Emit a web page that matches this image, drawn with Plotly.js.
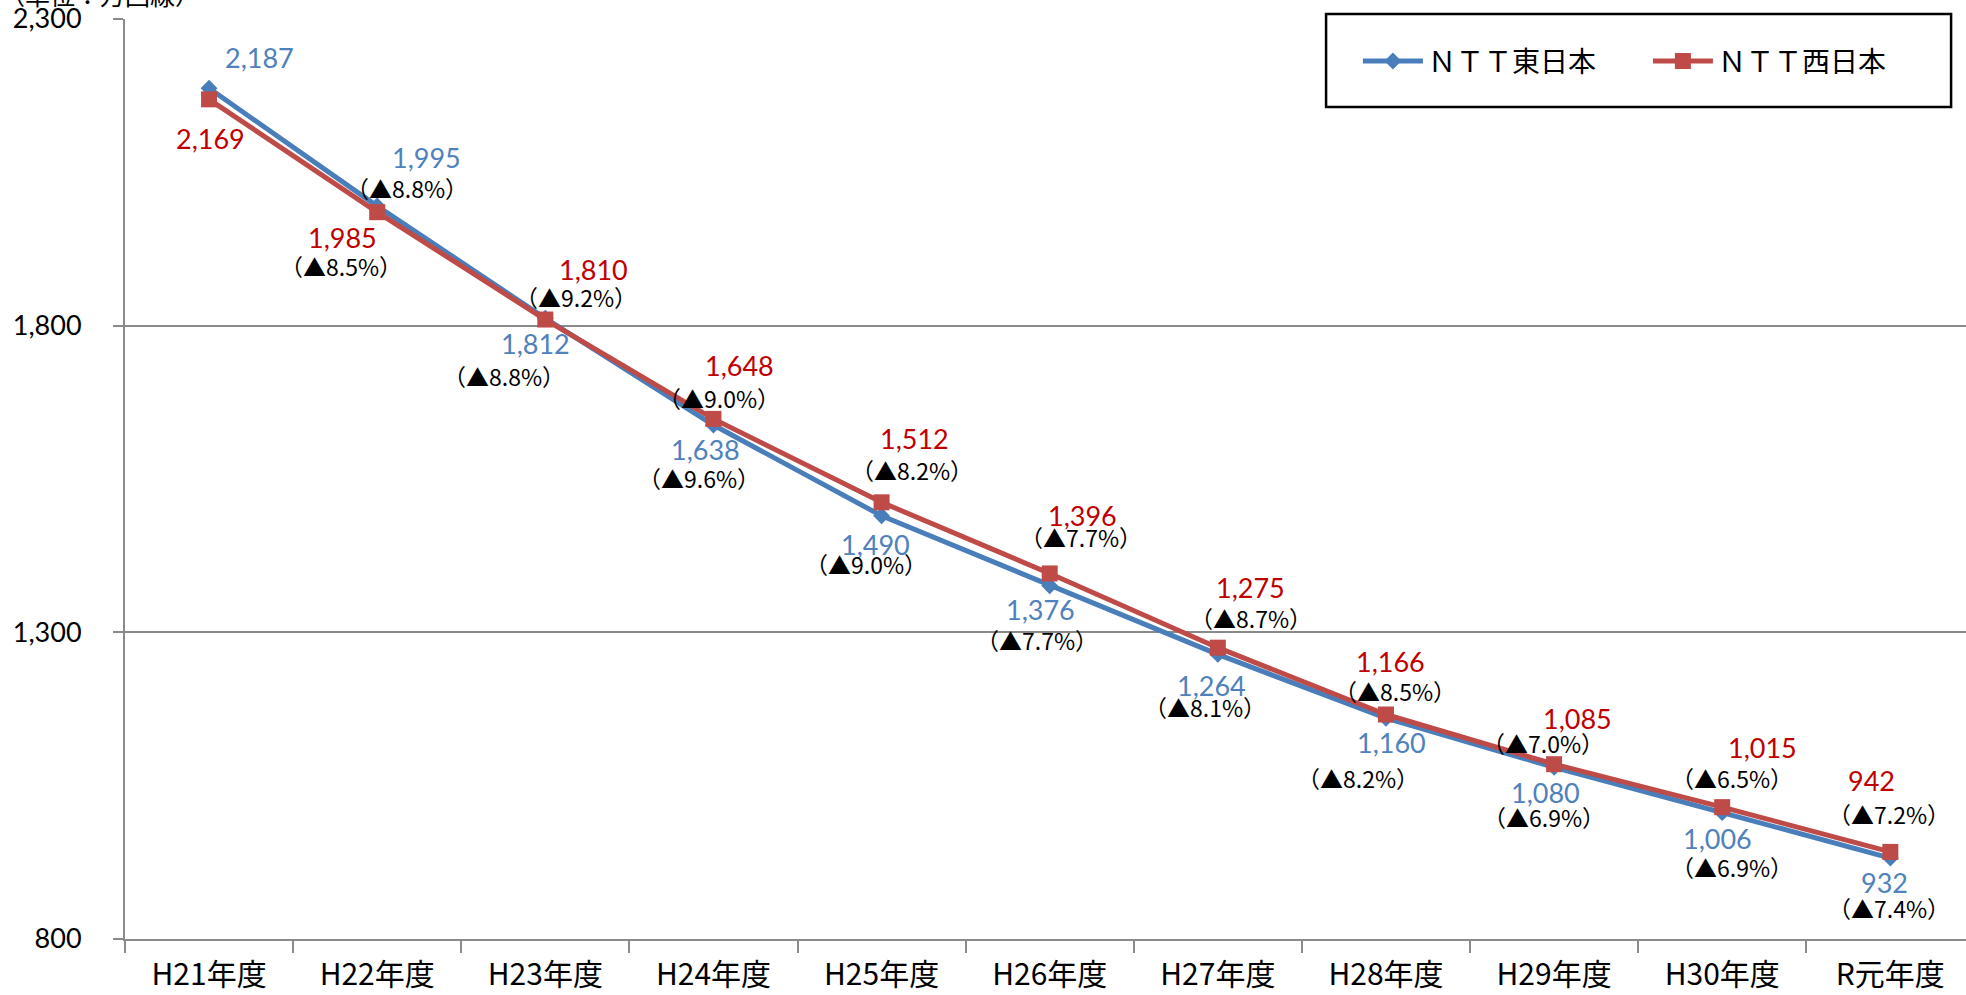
<!DOCTYPE html>
<html><head><meta charset="utf-8">
<script src="https://cdn.plot.ly/plotly-3.0.1.min.js"></script>
<style>html,body{margin:0;padding:0;background:#fff}#chart{width:1966px;height:995px}</style>
</head><body><div id="chart"></div>
<script>
// ---- data ----
const categories = ['H21年度','H22年度','H23年度','H24年度','H25年度','H26年度','H27年度','H28年度','H29年度','H30年度','R元年度'];
const eastValues = [2187,1995,1812,1638,1490,1376,1264,1160,1080,1006,932];
const westValues = [2169,1985,1810,1648,1512,1396,1275,1166,1085,1015,942];
const eastChangeLabels = ['','（▲8.8%）','（▲8.8%）','（▲9.6%）','（▲9.0%）','（▲7.7%）','（▲8.1%）','（▲8.2%）','（▲6.9%）','（▲6.9%）','（▲7.4%）'];
const westChangeLabels = ['','（▲8.5%）','（▲9.2%）','（▲9.0%）','（▲8.2%）','（▲7.7%）','（▲8.7%）','（▲8.5%）','（▲7.0%）','（▲6.5%）','（▲7.2%）'];
const yTickValues = [800,1300,1800,2300];
const seriesNames = ['ＮＴＴ東日本','ＮＴＴ西日本'];
const unitLabel = '（単位：万回線）';

// ---- label placement (pixel offsets from each point: [dx, dy downward]) ----
const eastNumOffset = [[50,-31],[49,-49],[-10,25],[-8,24],[-6,29],[-9,24],[-6,31],[6,24],[-9,25],[-5,26],[-6,24]];
const eastPctOffset = [[0,0],[30,-18],[-41,58],[-14,53],[-16,48],[-13,54],[-13,53],[-28,60],[-10,50],[10,54],[-1,50]];
const westNumOffset = [[1,39],[-35,25],[48,-50],[26,-53],[33,-64],[33,-58],[33,-60],[5,-53],[23,-46],[40,-60],[-19,-71]];
const westPctOffset = [[0,0],[-36,54],[31,-23],[6,-21],[30,-32],[31,-36],[33,-30],[9,-24],[-11,-21],[10,-29],[-1,-38]];

const BLUE = '#4A7EBB', RED = '#BE4B48';
const BLUE_TXT = '#4F81BD', RED_TXT = '#C00000';
const numFont = 'Lato, "Open Sans", sans-serif';
const narrowFont = '"Liberation Sans Narrow", "Noto Sans CJK JP", sans-serif';
const cjkFont = '"Noto Sans CJK JP", sans-serif';
const fmt = v => v.toLocaleString('en-US');

const traces = [
  {x: categories, y: eastValues, name: seriesNames[0], type: 'scatter', mode: 'lines+markers',
   line: {color: BLUE, width: 5}, marker: {symbol: 'diamond', size: 13, color: BLUE}},
  {x: categories, y: westValues, name: seriesNames[1], type: 'scatter', mode: 'lines+markers',
   line: {color: RED, width: 5}, marker: {symbol: 'square', size: 16, color: RED}}
];

const annotations = [];
function addLabels(values, pcts, numOff, pctOff, color) {
  values.forEach((v, i) => {
    annotations.push({x: categories[i], y: v, xref: 'x', yref: 'y', text: fmt(v), showarrow: false,
      xshift: numOff[i][0], yshift: -numOff[i][1], font: {family: numFont, size: 27, color: color}});
    if (pcts[i]) annotations.push({x: categories[i], y: v, xref: 'x', yref: 'y', text: pcts[i], showarrow: false,
      xshift: pctOff[i][0], yshift: -pctOff[i][1], font: {family: narrowFont, size: 23, color: '#000'}});
  });
}
addLabels(eastValues, eastChangeLabels, eastNumOffset, eastPctOffset, BLUE_TXT);
addLabels(westValues, westChangeLabels, westNumOffset, westPctOffset, RED_TXT);
annotations.push({xref: 'paper', yref: 'paper', x: -0.069, y: 1.0054, xanchor: 'left', yanchor: 'bottom',
  text: unitLabel, showarrow: false, font: {family: cjkFont, size: 25, color: '#000'}});

const layout = {
  width: 1966, height: 995,
  margin: {l: 125, r: 0, t: 19, b: 56, pad: 0, autoexpand: false},
  paper_bgcolor: '#fff', plot_bgcolor: '#fff',
  showlegend: true,
  legend: {orientation: 'h', x: 0.6697, xanchor: 'left', y: 0.954, yanchor: 'middle',
    bgcolor: 'rgba(0,0,0,0)', borderwidth: 0, itemwidth: 60, entrywidth: 215, entrywidthmode: 'pixels',
    font: {family: cjkFont, size: 28, color: '#000'}},
  xaxis: {type: 'category', range: [-0.5, 10.45], showgrid: false, zeroline: false,
    showline: true, linecolor: '#8a8a8a', linewidth: 2,
    ticks: 'outside', tickson: 'boundaries', ticklen: 12, tickcolor: '#8a8a8a', tickwidth: 2,
    ticklabelstandoff: 8,
    tickfont: {family: narrowFont, size: 30, color: '#000'}},
  yaxis: {range: [800, 2300], tickvals: yTickValues, ticktext: yTickValues.map(fmt),
    showgrid: true, gridcolor: '#8a8a8a', gridwidth: 2, zeroline: false,
    showline: true, linecolor: '#8a8a8a', linewidth: 2,
    ticks: 'outside', ticklen: 10, tickcolor: '#8a8a8a', tickwidth: 2,
    ticklabelstandoff: 26,
    tickfont: {family: numFont, size: 27, color: '#000'}},
  shapes: [{type: 'rect', xref: 'paper', yref: 'paper', x0: 0.6524, x1: 0.9919, y0: 0.9043, y1: 1.0054,
    line: {color: '#000', width: 2.5}, fillcolor: '#fff', layer: 'above'}],
  annotations: annotations,
  hovermode: false
};

Plotly.newPlot('chart', traces, layout, {displayModeBar: false, staticPlot: true});
</script></body></html>
